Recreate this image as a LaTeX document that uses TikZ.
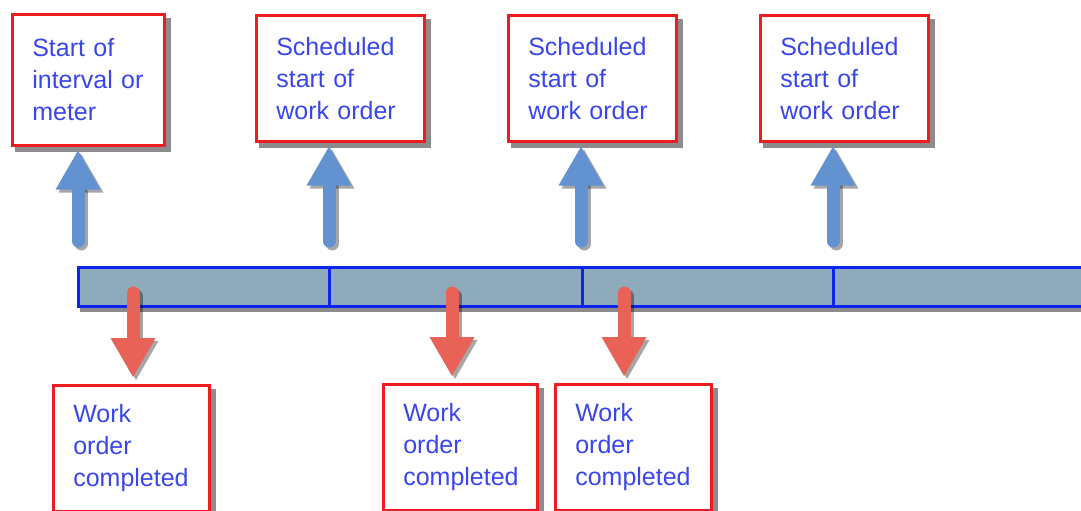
\documentclass[tikz,border=0pt]{standalone}
\usepackage{fontspec}
\setmainfont{Liberation Sans}
\usetikzlibrary{arrows.meta,backgrounds}
\definecolor{boxred}{RGB}{236,28,32}
\definecolor{txtblue}{RGB}{56,70,236}
\definecolor{upblue}{RGB}{98,146,208}
\definecolor{downred}{RGB}{232,98,88}
\definecolor{barfill}{RGB}{143,170,186}
\definecolor{barline}{RGB}{12,36,240}
\tikzset{
  lbl/.style={draw=boxred, line width=2.6pt, fill=white, anchor=north west,
    inner xsep=20pt, inner ysep=0pt, align=left, font=\fontsize{25}{32}\selectfont,
    text=txtblue},
  topbox/.style={lbl, minimum width=152pt, text width=112pt, minimum height=131pt},
  topboxw/.style={lbl, minimum width=168pt, text width=128pt, minimum height=126pt},
  botbox/.style={lbl, minimum width=156pt, text width=116pt, minimum height=126pt},
  seg/.style={draw=barline, line width=2.8pt, fill=barfill, anchor=north west,
    minimum height=39pt, inner sep=0pt},
  boxshadow/.style={fill=black, opacity=0.45},
  fatarrow/.style={line width=13pt, line cap=round,
    -{Triangle[width=45pt,length=39pt,line width=0pt]}},
  uparr/.style={fatarrow, draw=upblue},
  downarr/.style={fatarrow, draw=downred},
  arrshadow/.style={fatarrow, draw=black, opacity=0.35, transform canvas={shift={(3pt,-3pt)}}},
}
\begin{document}
\begin{tikzpicture}[x=1pt,y=-1pt]
\useasboundingbox (0,0) rectangle (1081,511);
\clip (0,0) rectangle (1081,511);
% timeline segments
\node[seg, minimum width=251pt] (s1) at (77,266) {};
\node[seg, minimum width=253pt] (s2) at (328,266) {};
\node[seg, minimum width=251pt] (s3) at (581,266) {};
\node[seg, minimum width=260pt] (s4) at (832,266) {};
% top boxes
\node[topbox] (b1) at (11,13) {Start of\\interval or\\meter};
\node[topboxw] (b2) at (255,14) {Scheduled\\start of\\work order};
\node[topboxw] (b3) at (507,14) {Scheduled\\start of\\work order};
\node[topboxw] (b4) at (759,14) {Scheduled\\start of\\work order};
% bottom boxes
\node[botbox] (c1) at (52,384) {Work\\order\\completed};
\node[botbox, minimum width=154pt, text width=114pt] (c2) at (382,383) {Work\\order\\completed};
\node[botbox] (c3) at (554,383) {Work\\order\\completed};
% shadows behind boxes and bar
\begin{scope}[on background layer]
  \foreach \n in {b1,b2,b3,b4,c1,c2,c3}{
    \fill[boxshadow] ([shift={(4,5)}]\n.north west) rectangle ([shift={(5,5)}]\n.south east);
  }
  \fill[boxshadow] ([shift={(3,4)}]s1.north west) rectangle ([shift={(3,4)}]s4.south east);
\end{scope}
% arrow anchor coordinates
\coordinate (u1) at (78,241);
\coordinate (u2) at (329,241);
\coordinate (u3) at (581,241);
\coordinate (u4) at (833,241);
\coordinate (d1) at (133,293);
\coordinate (d2) at (452,293);
\coordinate (d3) at (624,293);
% up arrows
\foreach \a/\b in {u1/b1,u2/b2,u3/b3,u4/b4}{
  \draw[arrshadow, shorten >=4pt] (\a) -- (\a |- \b.south);
  \draw[uparr, shorten >=4pt] (\a) -- (\a |- \b.south);
}
% down arrows
\foreach \a/\b in {d1/c1,d2/c2,d3/c3}{
  \draw[arrshadow, shorten >=7pt] (\a) -- (\a |- \b.north);
  \draw[downarr, shorten >=7pt] (\a) -- (\a |- \b.north);
}
\end{tikzpicture}
\end{document}
